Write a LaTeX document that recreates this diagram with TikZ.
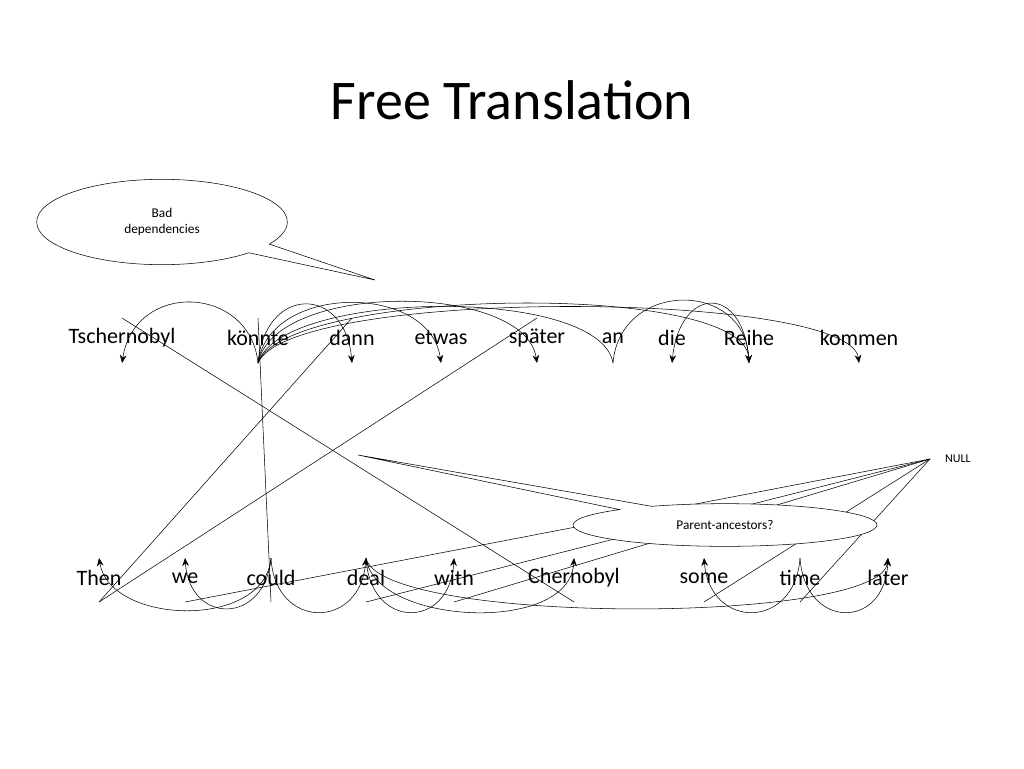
\documentclass[tikz,border=0pt]{standalone}
\usepackage{fontspec}
\setmainfont{Carlito}
\usetikzlibrary{shapes.geometric,shapes.callouts,arrows.meta}
\begin{document}
\begin{tikzpicture}[x=0.75pt,y=-0.75pt,
  w/.style={font=\fontsize{16.5}{18}\selectfont,inner sep=0pt},
  arc/.style={-{Stealth[length=6pt,width=5pt]},thin},
  ln/.style={thin}]
\useasboundingbox (0,0) rectangle (1024,768);
\node[font=\fontsize{42}{46}\selectfont] (title) at (512,100) {Free Translation};
% German words
\foreach \n/\x/\t in {T/122/Tschernobyl,k/258/könnte,d/352/dann,e/441/etwas,s/537/später,a/613/an,di/672/die,R/749/Reihe,ko/859/kommen}
  \node[w] (\n) at (\x,338) {\t};
% English words
\foreach \n/\x/\t in {Th/99/Then,we/185/we,co/271/could,de/366/deal,wi/454/with,Ch/574/Chernobyl,so/704/some,ti/800/time,la/888/later}
  \node[w] (\n) at (\x,578) {\t};
\node[font=\fontsize{9}{10}\selectfont] (null) at (958,459) {NULL};
\coordinate (np) at (930,459);
% top coordinates
\foreach \n in {T,k,d,e,s,a,di,R,ko} \coordinate (\n t) at ([yshift=-0.75*25]\n.center);
\foreach \n in {T,k,d,e,s,a,di,R,ko} \coordinate (\n u) at ([yshift=0.75*20]\n.center);
\foreach \n in {Th,we,co,de,wi,Ch,so,ti,la} \coordinate (\n b) at ([yshift=0.75*20]\n.center);
\foreach \n in {Th,we,co,de,wi,Ch,so,ti,la} \coordinate (\n p) at ([yshift=-0.75*24]\n.center);
% top arcs
\draw[arc] (kt) .. controls (250,285) and (135,280) .. (Tt);
\draw[arc] (kt) .. controls (265,285) and (345,285) .. (dt);
\draw[arc] (kt) .. controls (270,283) and (430,283) .. (et);
\draw[arc] (kt) .. controls (275,281) and (525,282) .. (st);
\draw[ln] (kt) .. controls (280,290) and (600,285) .. (at);
\draw[arc] (kt) .. controls (285,288) and (745,280) .. (Rt);
\draw[arc] (kt) .. controls (290,287) and (850,290) .. (kot);
\draw[arc] (at) .. controls (620,280) and (745,280) .. (Rt);
\draw[arc] (Rt) .. controls (745,283) and (680,285) .. (dit);
% bottom arcs
\draw[arc] (cob) .. controls (265,630) and (110,625) .. (Thb);
\draw[arc] (cob) .. controls (265,625) and (190,625) .. (web);
\draw[arc] (cob) .. controls (275,630) and (360,630) .. (deb);
\draw[arc] (deb) .. controls (370,630) and (450,630) .. (wib);
\draw[arc] (deb) .. controls (375,625) and (570,635) .. (Chb);
\draw[arc] (deb) .. controls (380,625) and (880,625) .. (lab);
\draw[arc] (tib) .. controls (795,630) and (710,630) .. (sob);
\draw[arc] (tib) .. controls (805,630) and (885,630) .. (lab);
% alignment lines
\draw[ln] (Tu) -- (Chp);
\draw[ln] (ku) -- (cop);
\draw[ln] (du) -- (Thp);
\draw[ln] (su) -- (Thp);
\draw[ln] (np) -- (wep);
\draw[ln] (np) -- (dep);
\draw[ln] (np) -- (wip);
\draw[ln] (np) -- (sop);
\draw[ln] (np) -- (tip);
% callouts
\node[draw,ellipse callout,callout absolute pointer={(375,280)},minimum width=188pt*0.75/0.75,minimum height=64,fill=white,align=center,font=\fontsize{10}{12}\selectfont,x=0.75pt] (bad) at (162,222) {Bad\\dependencies};
\node[draw,ellipse callout,callout absolute pointer={(358,455)},minimum width=228pt,minimum height=32pt,fill=white,font=\fontsize{10}{12}\selectfont] (pa) at (725,525) {Parent-ancestors?};
\end{tikzpicture}
\end{document}
